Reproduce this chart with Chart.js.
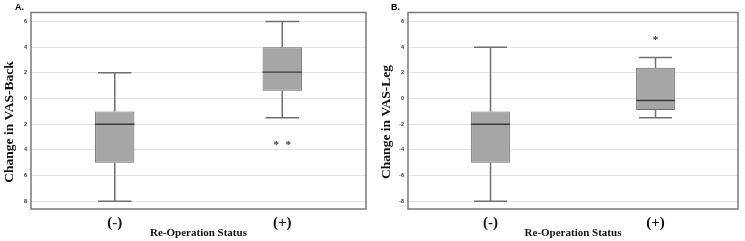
<!DOCTYPE html>
<html>
<head>
<meta charset="utf-8">
<script src="https://cdn.jsdelivr.net/npm/chart.js@4/dist/chart.umd.min.js"></script>
<style>
  body { margin: 0; background: #fff; }
  .wrap { position: absolute; top: 0; height: 241px; }
</style>
</head>
<body>
<div class="wrap" style="left:0;width:372px"><canvas id="chartA" width="372" height="241"></canvas></div>
<div class="wrap" style="left:375px;width:370px"><canvas id="chartB" width="370" height="241"></canvas></div>
<script>
// Box plot data
const categories = ['(-)', '(+)'];
const tickValues = [6, 4, 2, 0, -2, -4, -6, -8];

// Panel A: Change in VAS-Back
const backLow = [-8, -1.5];
const backQ1 = [-5, 0.6];
const backMedian = [-2, 2.05];
const backQ3 = [-1, 4];
const backHigh = [2, 6];
const backOutliers = [[], [-3.5, -3.5]];

// Panel B: Change in VAS-Leg
const legLow = [-8, -1.5];
const legQ1 = [-5, -0.9];
const legMedian = [-2, -0.15];
const legQ3 = [-1, 2.4];
const legHigh = [4, 3.2];
const legOutliers = [[], [4.7]];

const serif = '"Liberation Serif", "Times New Roman", serif';

// whiskers, medians, outliers, frame, axis title and panel letter
const boxExtras = {
  id: 'boxExtras',
  beforeDatasetsDraw(chart, args, opts) {
    const { ctx, scales: { x, y } } = chart;
    ctx.save();
    ctx.strokeStyle = '#707070';
    ctx.lineWidth = 1.5;
    const meta = chart.getDatasetMeta(0);
    opts.low.forEach((lo, i) => {
      const cx = x.getPixelForValue(i);
      const half = meta.data[i].width / 2;
      const cap = half * 0.85;
      const yLo = y.getPixelForValue(lo);
      const yHi = y.getPixelForValue(opts.high[i]);
      ctx.beginPath();
      ctx.moveTo(cx, yLo); ctx.lineTo(cx, y.getPixelForValue(opts.q1[i]));
      ctx.moveTo(cx, y.getPixelForValue(opts.q3[i])); ctx.lineTo(cx, yHi);
      ctx.moveTo(cx - cap, yLo); ctx.lineTo(cx + cap, yLo);
      ctx.moveTo(cx - cap, yHi); ctx.lineTo(cx + cap, yHi);
      ctx.stroke();
    });
    ctx.restore();
  },
  afterDatasetsDraw(chart, args, opts) {
    const { ctx, chartArea: a, scales: { x, y } } = chart;
    const meta = chart.getDatasetMeta(0);
    ctx.save();
    ctx.strokeStyle = '#3a3a3a';
    ctx.lineWidth = 1.3;
    opts.median.forEach((m, i) => {
      const cx = x.getPixelForValue(i);
      const half = meta.data[i].width / 2;
      const py = y.getPixelForValue(m);
      ctx.beginPath();
      ctx.moveTo(cx - half, py); ctx.lineTo(cx + half, py);
      ctx.stroke();
    });
    ctx.fillStyle = '#333';
    ctx.font = 'bold 11px ' + serif;
    ctx.textAlign = 'center';
    ctx.textBaseline = 'middle';
    opts.outliers.forEach((list, i) => {
      const cx = x.getPixelForValue(i);
      list.forEach((v, k) => {
        const shift = (k - (list.length - 1) / 2) * 12;
        ctx.fillText('*', cx + shift, y.getPixelForValue(v) + 2);
      });
    });
    // frame
    ctx.strokeStyle = '#7a7a7a';
    ctx.lineWidth = 1.5;
    ctx.strokeRect(a.left, a.top, a.right - a.left, a.bottom - a.top);
    // y axis title
    ctx.fillStyle = '#111';
    ctx.font = 'bold 13.5px ' + serif;
    ctx.translate(opts.titleX, 122);
    ctx.rotate(-Math.PI / 2);
    ctx.fillText(opts.title, 0, 0);
    ctx.setTransform(1, 0, 0, 1, 0, 0);
    // panel letter
    ctx.fillStyle = '#000';
    ctx.font = 'bold 9px "Liberation Sans", Arial, sans-serif';
    ctx.textAlign = 'left';
    ctx.textBaseline = 'alphabetic';
    ctx.fillText(opts.letter, opts.letterX, 10);
    ctx.restore();
  }
};

function makePanel(id, cfg) {
  return new Chart(document.getElementById(id), {
    type: 'bar',
    data: {
      labels: categories,
      datasets: [{
        data: cfg.q1.map((v, i) => [v, cfg.q3[i]]),
        backgroundColor: '#a6a6a6',
        borderColor: '#6a6a6a',
        borderWidth: 1,
        borderSkipped: false,
        barPercentage: 0.235,
        categoryPercentage: 1
      }]
    },
    options: {
      responsive: false,
      animation: false,
      layout: { padding: { left: 0, right: cfg.padRight, top: 12.5, bottom: 1 } },
      plugins: {
        legend: { display: false },
        tooltip: { enabled: false },
        boxExtras: cfg
      },
      scales: {
        x: {
          grid: { display: false, drawTicks: false },
          border: { display: false },
          ticks: { color: '#111', padding: 5, font: { family: serif, size: 15, weight: 'bold' } },
          title: {
            display: true, text: 'Re-Operation Status', color: '#111',
            font: { family: serif, size: 11, weight: 'bold' }, padding: { top: 0, bottom: 0 }
          },
          afterFit: (s) => { s.height = 31; }
        },
        y: {
          min: -8.6, max: 6.7,
          afterBuildTicks: (s) => { s.ticks = tickValues.map((v) => ({ value: v })); },
          grid: { color: '#e4e4e4', lineWidth: 1, drawTicks: false },
          border: { display: false },
          ticks: {
            color: '#333', padding: 4,
            font: { family: '"Liberation Sans", Arial, sans-serif', size: 5.5, weight: 'bold' },
            callback: cfg.tickLabel
          },
          afterFit: (s) => { s.width = cfg.axisWidth; }
        }
      }
    },
    plugins: [boxExtras]
  });
}

makePanel('chartA', {
  title: 'Change in VAS-Back', titleX: 10, letter: 'A.', letterX: 15,
  axisWidth: 31, padRight: 6,
  low: backLow, q1: backQ1, median: backMedian, q3: backQ3, high: backHigh, outliers: backOutliers,
  tickLabel: (v) => String(Math.abs(v))
});
makePanel('chartB', {
  title: 'Change in VAS-Leg', titleX: 12, letter: 'B.', letterX: 16,
  axisWidth: 33, padRight: 7,
  low: legLow, q1: legQ1, median: legMedian, q3: legQ3, high: legHigh, outliers: legOutliers,
  tickLabel: (v) => String(v)
});
</script>
</body>
</html>
